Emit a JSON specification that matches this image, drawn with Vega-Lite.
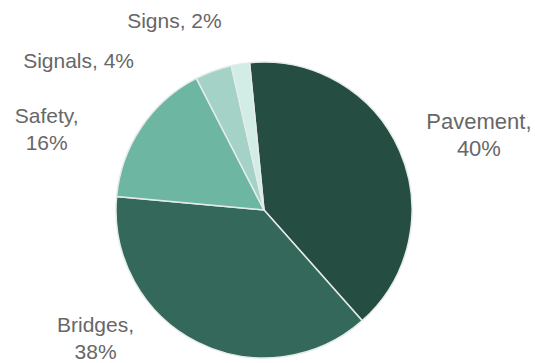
{
  "$schema": "https://vega.github.io/schema/vega-lite/v6.json",
  "width": 528,
  "height": 306,
  "autosize": {"type": "none"},
  "padding": {"left": 0, "top": 57, "right": 7, "bottom": 0},
  "background": "white",
  "view": {"stroke": null},
  "config": {
    "text": {"font": "Liberation Sans", "fontSize": 21, "color": "#676767", "align": "center", "baseline": "alphabetic", "lineBreak": "\n", "lineHeight": 27, "radius": 165}
  },
  "data": {"values": [
    {"category": "Pavement", "share": 40, "label": "Pavement,\n40%", "rank": 1},
    {"category": "Bridges", "share": 38, "label": "Bridges,\n38%", "rank": 2},
    {"category": "Safety", "share": 16, "label": "Safety,\n16%", "rank": 3},
    {"category": "Signals", "share": 4, "label": "Signals, 4%", "rank": 4},
    {"category": "Signs", "share": 2, "label": "Signs, 2%", "rank": 5}
  ]},
  "transform": [
    {"stack": "share", "groupby": [], "sort": [{"field": "rank", "order": "ascending"}], "as": ["s0", "s1"]}
  ],
  "encoding": {
    "theta": {"field": "s0", "type": "quantitative", "scale": {"domain": [0, 100], "range": [-0.0977, 6.1855]}},
    "theta2": {"field": "s1"}
  },
  "layer": [
    {
      "mark": {"type": "arc", "outerRadius": 148, "stroke": "#e4ebe8", "strokeWidth": 1.5},
      "encoding": {
        "color": {"field": "category", "type": "nominal", "legend": null,
          "scale": {"domain": ["Pavement", "Bridges", "Safety", "Signals", "Signs"],
                    "range": ["#264d42", "#33685a", "#6db6a2", "#a4d2c7", "#d2ece6"]}}
      }
    },
    {
      "transform": [{"filter": "datum.category === 'Pavement'"}],
      "mark": {"type": "text", "dx": 231, "dy": 83, "fontSize": 22},
      "encoding": {"text": {"field": "label"}}
    },
    {
      "transform": [{"filter": "datum.category === 'Bridges'"}],
      "mark": {"type": "text", "dx": -278, "dy": -1},
      "encoding": {"text": {"field": "label"}}
    },
    {
      "transform": [{"filter": "datum.category === 'Safety'"}],
      "mark": {"type": "text", "dx": -53, "dy": -72},
      "encoding": {"text": {"field": "label"}}
    },
    {
      "transform": [{"filter": "datum.category === 'Signals'"}],
      "mark": {"type": "text", "dx": -110, "dy": 5},
      "encoding": {"text": {"field": "label"}}
    },
    {
      "transform": [{"filter": "datum.category === 'Signs'"}],
      "mark": {"type": "text", "dx": -53, "dy": -21},
      "encoding": {"text": {"field": "label"}}
    }
  ]
}
